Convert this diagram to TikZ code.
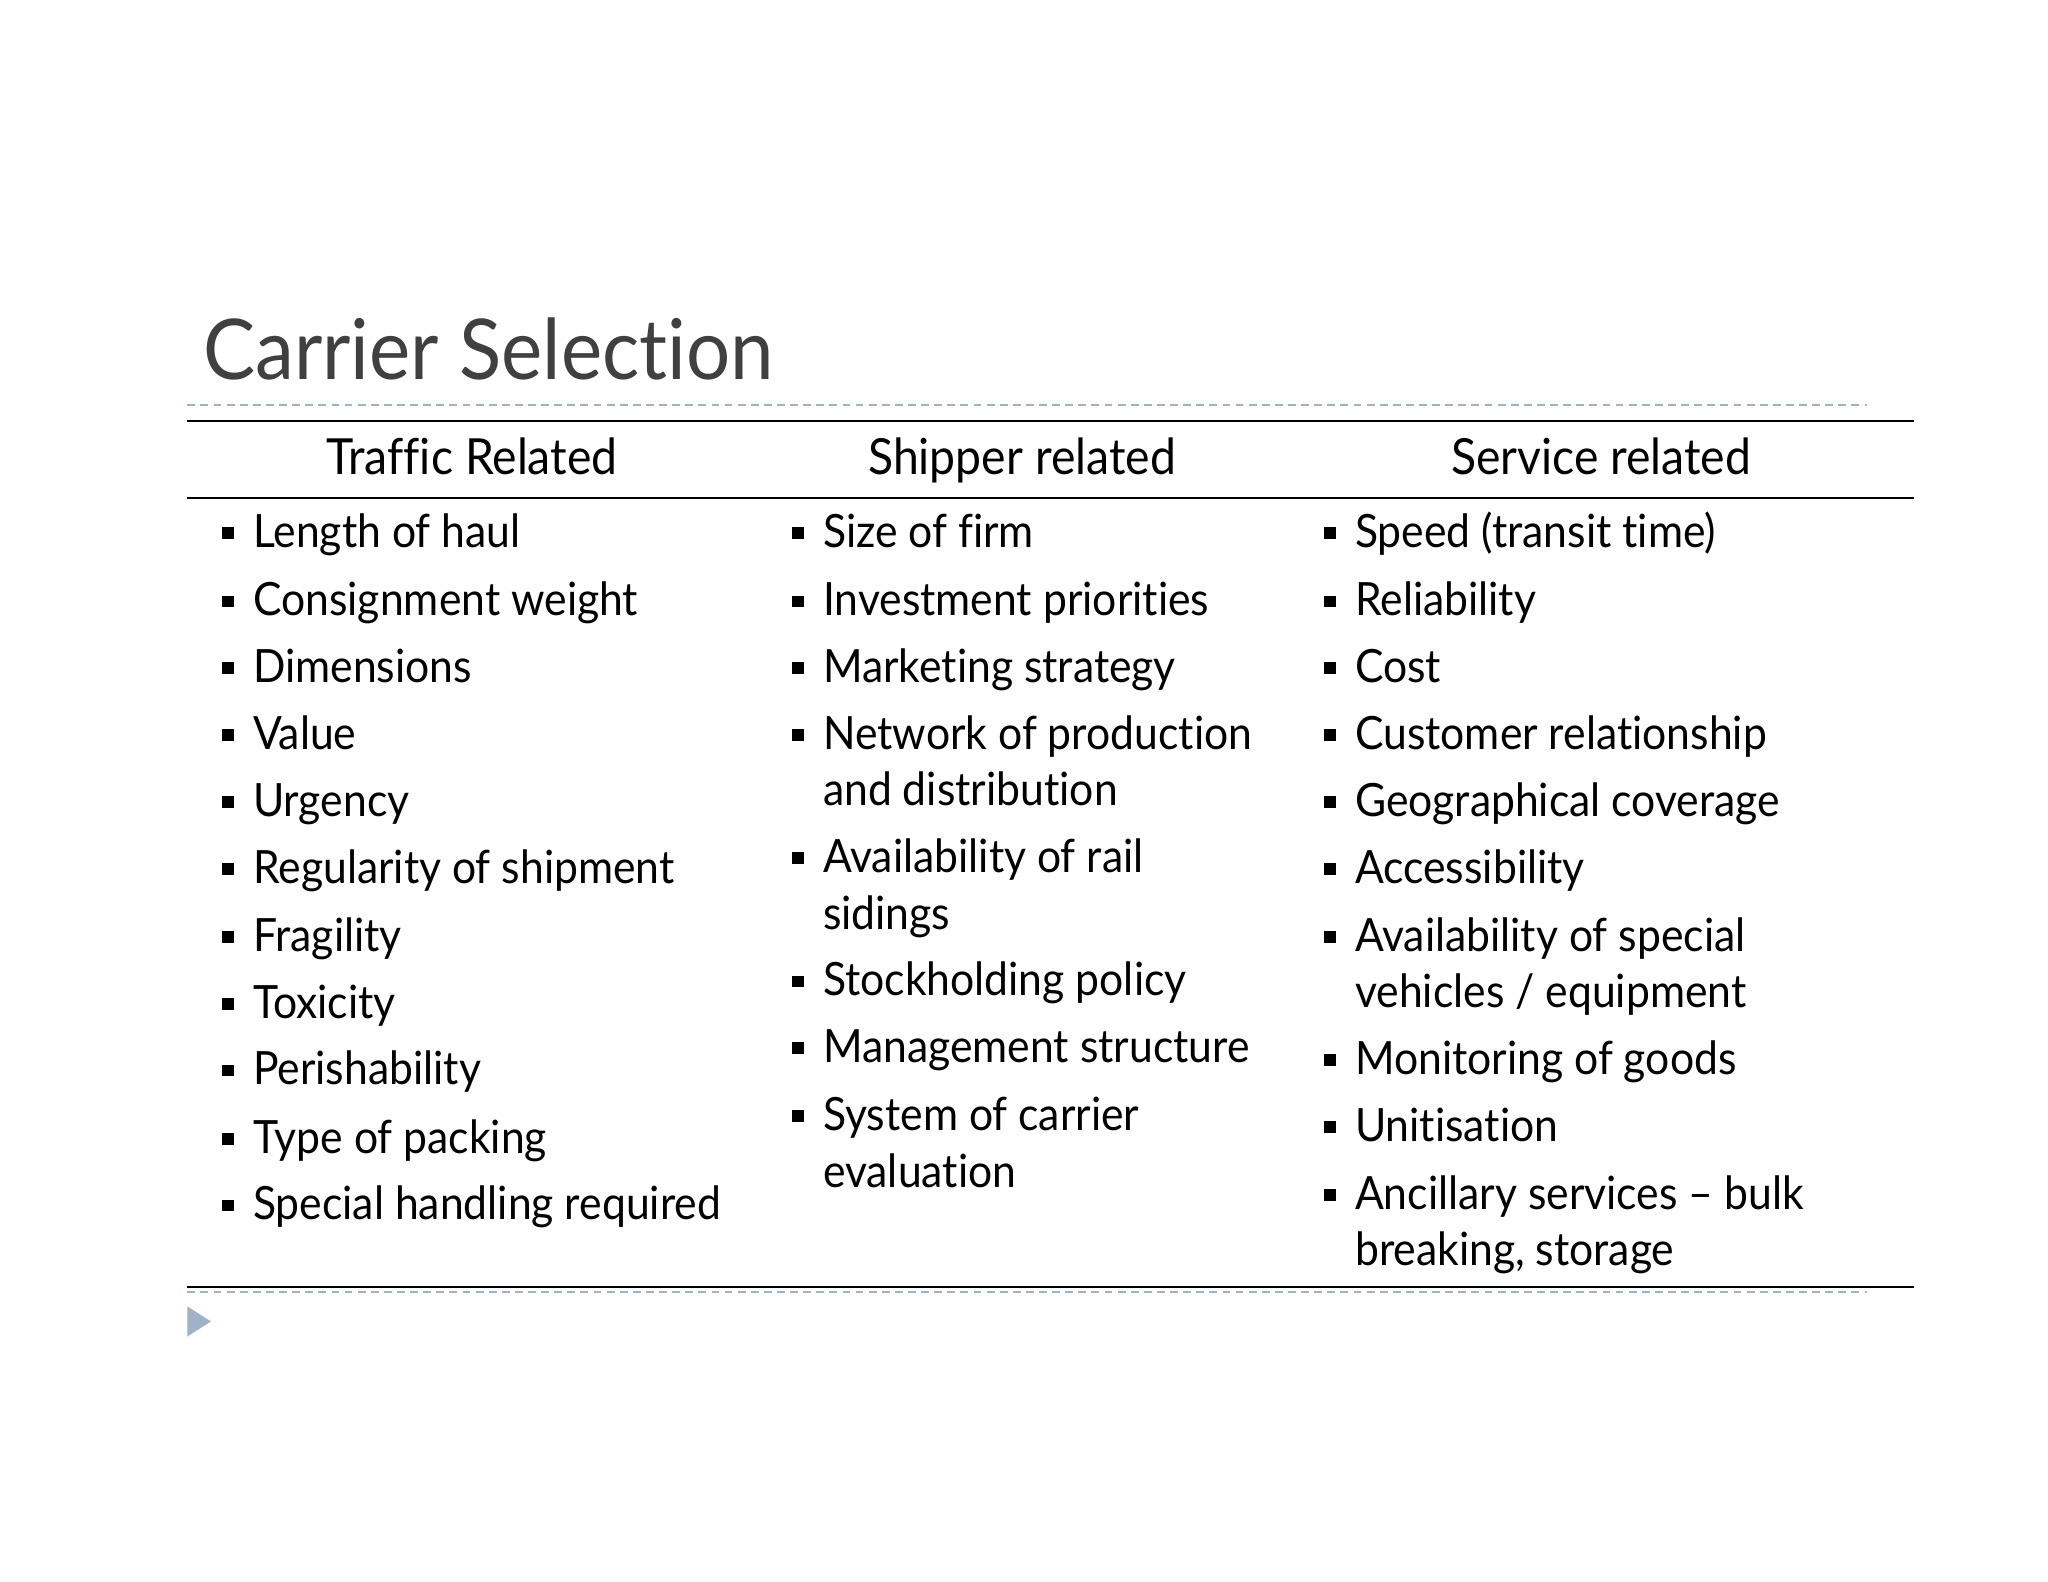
\documentclass[tikz,border=0pt]{standalone}
\usepackage{fontspec}
\setmainfont{Lato}[FakeStretch=0.93,RawFeature={-liga;-dlig}]
\begin{document}
\begin{tikzpicture}[x=1pt,y=-1pt,
  itm/.style={anchor=base west,inner sep=0pt,font=\fontsize{35}{42}\selectfont},
  hdr/.style={anchor=base,inner sep=0pt,font=\fontsize{38}{44}\selectfont},
  bul/.style={fill=black,minimum size=9pt,inner sep=0pt}]
\useasboundingbox (0,0) rectangle (1563,1207);
\definecolor{dashcol}{RGB}{160,178,198}
\node[anchor=base west,inner sep=0pt,text=black!75,font=\fontsize{64}{70}\selectfont] (title) at (155,290) {Carrier Selection};
\draw[dashcol,line width=1.2pt,dash pattern=on 6pt off 4pt] (143,309) coordinate(d1) -- (1425,309) coordinate(d2);
\draw[line width=1.5pt] (143,321) coordinate(a1) -- (1461,321) coordinate(a2);
\draw[line width=1.5pt] (143,380) coordinate(b1) -- (1461,380) coordinate(b2);
\draw[line width=1.5pt] (143,982) coordinate(c1) -- (1461,982) coordinate(c2);
\draw[dashcol,line width=1.2pt,dash pattern=on 6pt off 4pt] (143,986) coordinate(e1) -- (1425,986) coordinate(e2);
\fill[dashcol] (143,997) -- (161,1008.5) -- (143,1020) -- cycle;
\node[hdr] (h1) at (360,362) {Traffic Related};
\node[hdr] (h2) at (780,362) {Shipper related};
\node[hdr] (h3) at (1222,362) {Service related};
\foreach \y/\t [count=\i] in {407/Length of haul,459/Consignment weight,510/Dimensions,561/Value,612/Urgency,663/Regularity of shipment,715/Fragility,766/Toxicity,817/Perishability,869/Type of packing,920/Special handling required}{
  \node[bul] (pa\i) at (174,\y) {};
  \node[itm] (ta\i) at (193,\y+11) {\t};
}
\foreach \y [count=\i] in {407,459,510,561,655,749,800,852}{
  \node[bul] (pb\i) at (609,\y) {};
}
\foreach \y/\t [count=\i] in {407/Size of firm,459/Investment priorities,510/Marketing strategy,561/Network of production,604/and distribution,655/Availability of rail,698/sidings,749/Stockholding policy,800/Management structure,852/System of carrier,895/evaluation}{
  \node[itm] (tb\i) at (628,\y+11) {\t};
}
\foreach \y [count=\i] in {407,459,510,561,612,663,715,809,860,912}{
  \node[bul] (pc\i) at (1015,\y) {};
}
\foreach \y/\t [count=\i] in {407/Speed (transit time),459/Reliability,510/Cost,561/Customer relationship,612/Geographical coverage,663/Accessibility,715/Availability of special,758/{vehicles / equipment},809/Monitoring of goods,860/Unitisation,912/Ancillary services -- bulk,955/{breaking, storage}}{
  \node[itm] (tc\i) at (1034,\y+11) {\t};
}
\end{tikzpicture}
\end{document}
